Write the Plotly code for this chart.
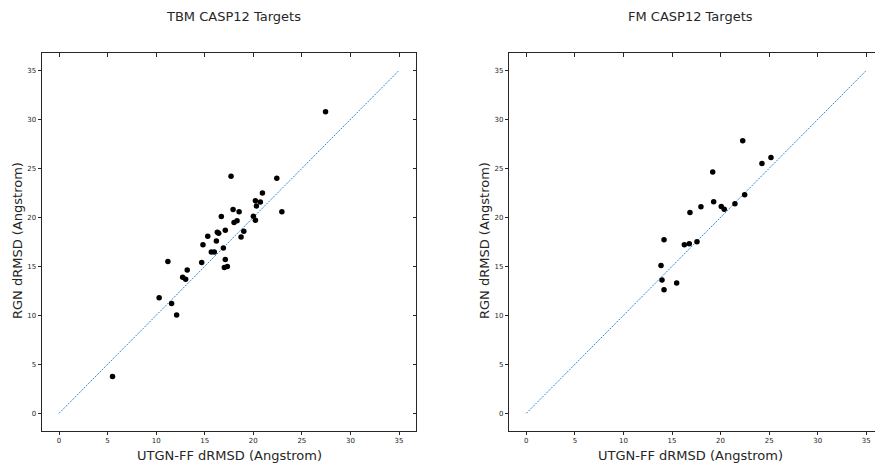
import plotly.graph_objects as go

# ---- data ----
tbm_utgn = [27.44, 17.71, 22.42, 20.94, 20.22, 20.73, 20.32, 17.92, 18.54, 22.94,
            16.71, 20.01, 20.22, 18.33, 18.02, 17.12, 19.02, 16.30, 16.44, 15.31,
            18.74, 16.20, 14.82, 16.92, 15.68, 15.99, 14.69, 17.12, 11.21, 17.33,
            17.02, 13.20, 12.73, 13.04, 10.31, 11.59, 12.11, 5.51]
tbm_rgn = [30.79, 24.20, 24.00, 22.50, 21.71, 21.58, 21.17, 20.80, 20.59, 20.59,
           20.08, 20.12, 19.71, 19.67, 19.47, 18.69, 18.59, 18.49, 18.39, 18.08,
           18.01, 17.60, 17.20, 16.89, 16.48, 16.48, 15.39, 15.70, 15.50, 14.99,
           14.88, 14.62, 13.90, 13.70, 11.79, 11.21, 10.03, 3.77]

fm_utgn = [22.28, 25.19, 24.26, 19.19, 22.48, 19.29, 21.48, 20.07, 20.38, 17.98,
           16.85, 14.18, 17.57, 16.78, 16.27, 13.87, 13.97, 15.48, 14.18]
fm_rgn = [27.83, 26.12, 25.51, 24.63, 22.32, 21.60, 21.40, 21.12, 20.82, 21.09,
          20.51, 17.72, 17.52, 17.32, 17.21, 15.10, 13.61, 13.30, 12.62]

diag = [0, 35]
tick_vals = [0, 5, 10, 15, 20, 25, 30, 35]
tick_text = [str(v) for v in tick_vals]
titles = ["TBM CASP12 Targets", "FM CASP12 Targets"]
x_title = "UTGN-FF dRMSD (Angstrom)"
y_title = "RGN dRMSD (Angstrom)"

# ---- style ----
W, H = 875, 466
FONT = "DejaVu Sans"
TXT = "#262626"
LINE = "#262626"
full_rng = [-1.75, 36.75]
right_x_rng = [-1.75, 35.9]
ydom = [1 - 430.5 / H, 1 - 53.3 / H]
xdom_l = [42 / W, 416 / W]
xdom_r = [509.3 / W, 1.0]

fig = go.Figure()

def add_panel(xs, ys, xa, ya):
    fig.add_trace(go.Scatter(x=diag, y=diag, mode="lines", xaxis=xa, yaxis=ya,
                             line=dict(color="#2f86d3", width=1, dash="2px,1.2px"),
                             hoverinfo="skip", showlegend=False))
    fig.add_trace(go.Scatter(x=xs, y=ys, mode="markers", xaxis=xa, yaxis=ya,
                             marker=dict(color="black", size=5.5, line=dict(width=0)),
                             showlegend=False))

add_panel(tbm_utgn, tbm_rgn, "x", "y")
add_panel(fm_utgn, fm_rgn, "x2", "y2")
# empty traces to activate overlay (mirror) axes
fig.add_trace(go.Scatter(x=[], y=[], xaxis="x3", yaxis="y", showlegend=False))
fig.add_trace(go.Scatter(x=[], y=[], xaxis="x", yaxis="y3", showlegend=False))
fig.add_trace(go.Scatter(x=[], y=[], xaxis="x4", yaxis="y2", showlegend=False))

base = dict(showgrid=False, zeroline=False, showline=True, linecolor=LINE, linewidth=1,
            tickmode="array", tickvals=tick_vals, ticktext=tick_text,
            ticks="outside", ticklen=3.5, tickwidth=0.8, tickcolor=LINE,
            tickfont=dict(family=FONT, size=7, color=TXT), automargin=False)
mirror = dict(showgrid=False, zeroline=False, showline=True, linecolor=LINE, linewidth=1,
              tickmode="array", tickvals=tick_vals, showticklabels=False,
              ticks="inside", ticklen=3.5, tickwidth=0.8, tickcolor=LINE, automargin=False)

fig.update_layout(
    width=W, height=H,
    margin=dict(l=0, r=0, t=0, b=0),
    paper_bgcolor="white", plot_bgcolor="white",
    showlegend=False,
    font=dict(family=FONT, color=TXT),
    xaxis=dict(base, domain=xdom_l, anchor="y", range=full_rng),
    yaxis=dict(base, domain=ydom, anchor="x", range=full_rng),
    xaxis2=dict(base, domain=xdom_r, anchor="y2", range=right_x_rng),
    yaxis2=dict(base, domain=ydom, anchor="x2", range=full_rng),
    xaxis3=dict(mirror, overlaying="x", side="top", anchor="y", range=full_rng),
    yaxis3=dict(mirror, overlaying="y", side="right", anchor="x", range=full_rng),
    xaxis4=dict(mirror, overlaying="x2", side="top", anchor="y2", range=right_x_rng),
)

ann = []
for cx, t in [(233 / W, titles[0]), (690 / W, titles[1])]:
    ann.append(dict(text=t, x=cx, y=1 - 16 / H, xref="paper", yref="paper",
                    showarrow=False, font=dict(family=FONT, size=13, color=TXT),
                    xanchor="center", yanchor="middle"))
for cx in [229 / W, 690 / W]:
    ann.append(dict(text=x_title, x=cx, y=1 - 455 / H, xref="paper", yref="paper",
                    showarrow=False, font=dict(family=FONT, size=13, color=TXT),
                    xanchor="center", yanchor="middle"))
for cx in [17 / W, 484 / W]:
    ann.append(dict(text=y_title, x=cx, y=1 - 241 / H, xref="paper", yref="paper",
                    showarrow=False, textangle=-90, font=dict(family=FONT, size=13, color=TXT),
                    xanchor="center", yanchor="middle"))
fig.update_layout(annotations=ann)

fig.write_html("out.html", config={"displayModeBar": False},
               post_script="document.body.style.margin='0';document.body.style.overflow='hidden';")
